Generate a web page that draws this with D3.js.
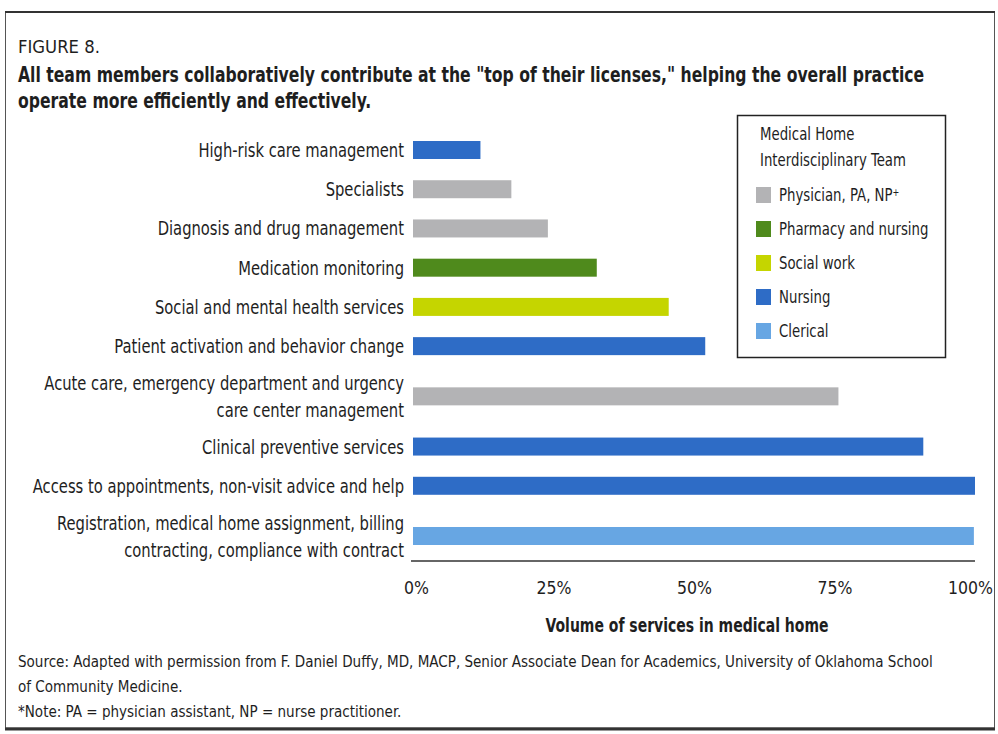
<!DOCTYPE html>
<html>
<head>
<meta charset="utf-8">
<script src="https://cdn.jsdelivr.net/npm/d3@7"></script>
<style>
  html, body { margin: 0; padding: 0; background: #fff; }
  svg { display: block; }
  text { font-family: "DejaVu Sans Condensed", "Liberation Sans Narrow", sans-serif; fill: #1e1e1e; }
</style>
</head>
<body>
<svg id="chart" width="998" height="734"></svg>
<script>
// ---- Data ----
const categories = [
  ["High-risk care management"],
  ["Specialists"],
  ["Diagnosis and drug management"],
  ["Medication monitoring"],
  ["Social and mental health services"],
  ["Patient activation and behavior change"],
  ["Acute care, emergency department and urgency", "care center management"],
  ["Clinical preventive services"],
  ["Access to appointments, non-visit advice and help"],
  ["Registration, medical home assignment, billing", "contracting, compliance with contract"]
];
const values = [12, 17.5, 24, 32.7, 45.5, 52, 75.7, 90.8, 100, 99.8];
const teams = ["Nursing", "Physician", "Physician", "Pharmacy", "Social", "Nursing", "Physician", "Nursing", "Nursing", "Clerical"];

const legendKeys = ["Physician", "Pharmacy", "Social", "Nursing", "Clerical"];
const legendLabels = ["Physician, PA, NP", "Pharmacy and nursing", "Social work", "Nursing", "Clerical"];
const legendColors = ["#b3b3b5", "#4f8a1c", "#c5d500", "#2e6cc6", "#67a6e3"];

const xTicks = [0, 25, 50, 75, 100];
const xTickLabels = ["0%", "25%", "50%", "75%", "100%"];

const figureLabel = "FIGURE 8.";
const titleLines = [
  "All team members collaboratively contribute at the \"top of their licenses,\" helping the overall practice",
  "operate more efficiently and effectively."
];
const axisTitle = "Volume of services in medical home";
const legendTitle = ["Medical Home", "Interdisciplinary Team"];
const sourceLines = [
  "Source: Adapted with permission from F. Daniel Duffy, MD, MACP, Senior Associate Dean for Academics, University of Oklahoma School",
  "of Community Medicine.",
  "*Note: PA = physician assistant, NP = nurse practitioner."
];

// ---- Helpers ----
const svg = d3.select("#chart");
const probe = svg.append("text").attr("x", -9999).attr("y", -9999);
function measure(str, size, weight) {
  probe.attr("font-size", size).attr("font-weight", weight || "normal").text(str);
  return probe.node().getComputedTextLength();
}
// text placed at (x,y), horizontally condensed by sx around its anchor
function put(parent, x, y, str, size, sx, opts) {
  opts = opts || {};
  const g = parent.append("g").attr("transform", `translate(${x},${y}) scale(${sx},1)`);
  const t = g.append("text").attr("x", 0).attr("y", 0)
    .attr("font-size", size)
    .attr("font-weight", opts.weight || "normal")
    .attr("text-anchor", opts.anchor || "start")
    .attr("dy", opts.dy || null)
    .text(str);
  return t;
}

// frame
svg.append("rect").attr("x", 5.5).attr("y", 12).attr("width", 989).attr("height", 716)
  .attr("fill", "#fff").attr("stroke", "#555").attr("stroke-width", 1);
svg.append("line").attr("x1", 5).attr("x2", 995).attr("y1", 12).attr("y2", 12)
  .attr("stroke", "#333").attr("stroke-width", 2);
svg.append("line").attr("x1", 5).attr("x2", 995).attr("y1", 729).attr("y2", 729)
  .attr("stroke", "#333").attr("stroke-width", 3);

// condensation factors derived from reference text widths
const figSx = 82 / measure(figureLabel, 18.5);
const titleSx = 907 / measure(titleLines[0], 20.5, "bold");
const catSx = 360 / measure(categories[6][0], 19.5);
const legSx = 146 / measure(legendTitle[1], 18);
const axSx = 283 / measure(axisTitle, 19, "bold");
const srcSx = 916 / measure(sourceLines[0], 16.5);
const tickSx = 45 / measure("100%", 18.5);

put(svg, 18, 53, figureLabel, 18.5, figSx);
titleLines.forEach((s, i) => put(svg, 18, 82 + i * 26, s, 20.5, titleSx, { weight: "bold" }));

// y positions: row spacing grows with label line counts
const units = [0];
for (let i = 1; i < categories.length; i++) {
  units.push(units[i - 1] + 1 + 0.28 * ((categories[i - 1].length - 1) + (categories[i].length - 1)));
}
const y = d3.scaleLinear().domain([0, units[units.length - 1]]).range([150, 536]);
const x = d3.scaleLinear().domain([0, 100]).range([413, 975]);
const color = d3.scaleOrdinal().domain(legendKeys).range(legendColors);
const barH = 18;

// bars
svg.selectAll("rect.bar").data(values).join("rect")
  .attr("class", "bar")
  .attr("x", x(0))
  .attr("y", (d, i) => y(units[i]) - barH / 2)
  .attr("width", d => x(d) - x(0))
  .attr("height", barH)
  .attr("fill", (d, i) => color(teams[i]));

// category labels
categories.forEach((lines, i) => {
  lines.forEach((s, j) => {
    put(svg, 404, y(units[i]) + (j - (lines.length - 1) / 2) * 27, s, 19.5, catSx, { anchor: "end", dy: "0.36em" });
  });
});

// x axis
const axis = d3.axisBottom(x).tickValues(xTicks).tickFormat((d, i) => xTickLabels[i]).tickSize(0).tickPadding(0);
const gx = svg.append("g").attr("transform", "translate(0,561)").call(axis);
gx.select(".domain").attr("stroke", "#333").attr("stroke-width", 1.5).attr("d", `M${x(0) - 2},0H${x(100)}`);
gx.selectAll(".tick text").remove();
gx.selectAll(".tick").each(function (d, i) {
  const shift = d === 0 ? 3 : (d === 100 ? -5 : 0);
  put(d3.select(this), shift, 33, xTickLabels[i], 18.5, tickSx, { anchor: "middle" }).attr("fill", "#1e1e1e");
});

put(svg, 687, 632, axisTitle, 19, axSx, { anchor: "middle", weight: "bold" });

// legend
const lg = svg.append("g");
lg.append("rect").attr("x", 737.5).attr("y", 115.5).attr("width", 208).attr("height", 242)
  .attr("fill", "#fff").attr("stroke", "#222").attr("stroke-width", 1.5);
legendTitle.forEach((s, i) => put(lg, 760, 140 + i * 26, s, 18, legSx));
legendKeys.forEach((k, i) => {
  const cy = 195 + i * 34;
  lg.append("rect").attr("x", 756).attr("y", cy - 8).attr("width", 15).attr("height", 16).attr("fill", color(k));
  const t = put(lg, 779, cy, legendLabels[i], 18, legSx, { dy: "0.36em" });
  if (k === "Physician") {
    t.append("tspan").attr("font-size", 11).attr("dy", "-0.5em").text("+");
  }
});

// source
sourceLines.forEach((s, i) => put(svg, 18, 667 + i * 25, s, 16.5, srcSx));
probe.remove();
</script>
</body>
</html>
